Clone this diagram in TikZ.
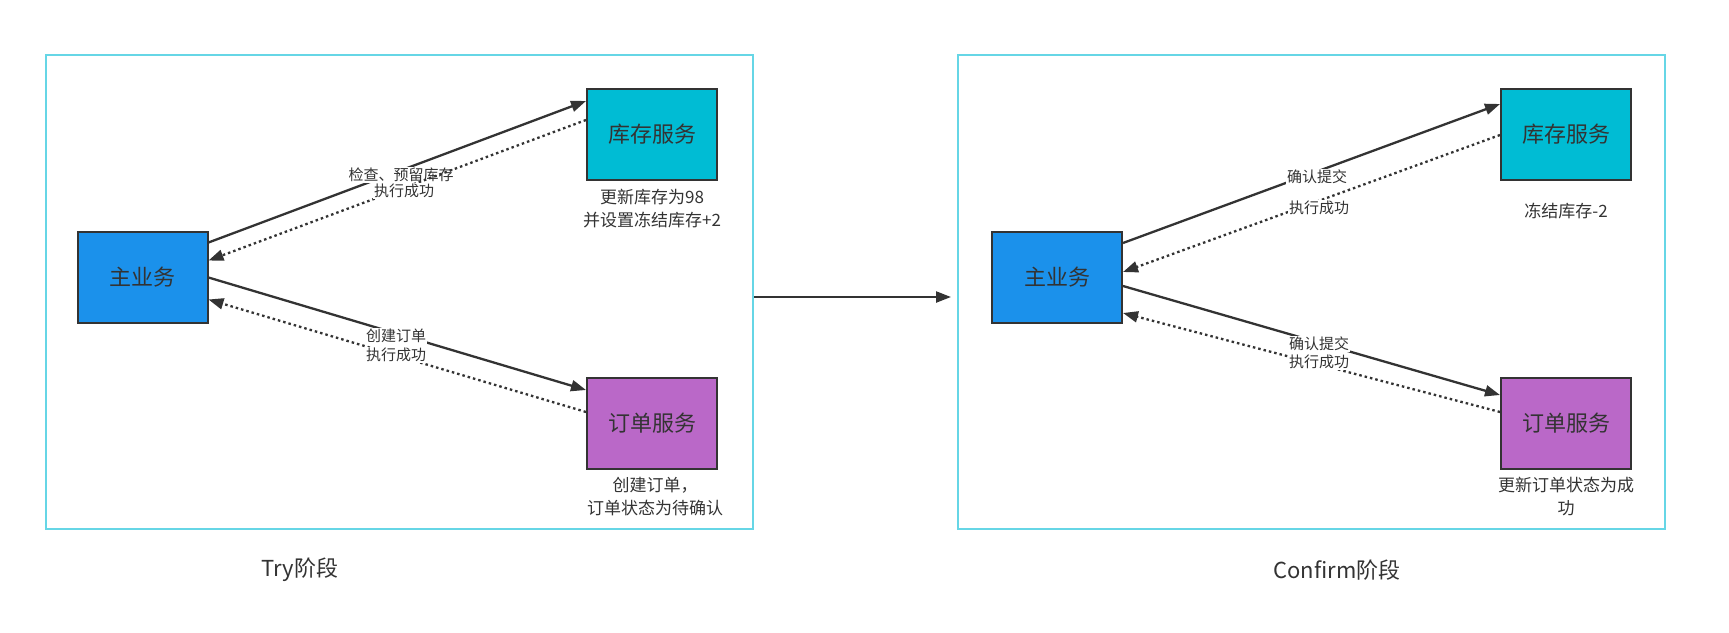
\documentclass[tikz,border=0pt]{standalone}
\usepackage{fontspec}
\setmainfont{Noto Sans CJK SC}
\usetikzlibrary{arrows.meta}

\definecolor{mainblue}{RGB}{27,145,235}
\definecolor{stockcyan}{RGB}{0,188,212}
\definecolor{orderpurple}{RGB}{186,104,200}
\definecolor{framecyan}{RGB}{102,214,230}
\definecolor{ink}{RGB}{51,51,51}

\tikzstyle{service} = [draw=ink,line width=2pt,minimum width=130pt,minimum height=91pt,inner sep=0pt,text=ink,font=\fontsize{22}{26}\selectfont]
\tikzstyle{phase} = [draw=framecyan,line width=2pt,minimum width=707pt,minimum height=474pt,inner sep=0pt]
\tikzstyle{phaselabel} = [text=ink,font=\fontsize{22}{26}\selectfont]
\tikzstyle{note} = [align=center,text=ink,font=\fontsize{17}{23}\selectfont]
\tikzstyle{edgelabel} = [fill=white,inner sep=1pt,text=ink,font=\fontsize{15}{17}\selectfont]
\tikzstyle{call} = [draw=ink,line width=2.3pt,-{Triangle[length=15pt,width=11pt]}]
\tikzstyle{reply} = [draw=ink,line width=2.3pt,dash pattern=on 2.5pt off 3pt,-{Triangle[length=15pt,width=11pt]}]

\begin{document}
\begin{tikzpicture}[x=1pt,y=-1pt]
		\useasboundingbox (0,0) rectangle (1729,632);
		% Try
		\node[phase] (f1) at (399.5,292) {};
		\node[service,fill=mainblue] (t1) at (142.5,277.5) {主业务};
		\node[service,fill=stockcyan] (t2) at (652,134) {库存服务};
		\node[service,fill=orderpurple] (t3) at (652,423) {订单服务};
		\node[note] (t2note) at (652,208.5) {更新库存为98\\并设置冻结库存+2};
		\node[note] (t3note) at (655,496.5) {创建订单，\\订单状态为待确认};
		\draw[call] ([yshift=35pt]t1.east) -- ([yshift=33pt]t2.west);
		\node[edgelabel] (l1) at (401,175) {检查、预留库存};
		\draw[reply] ([yshift=14pt]t2.west) -- ([yshift=17pt]t1.east);
		\node[edgelabel] (l2) at (404,191) {执行成功};
		\draw[call] ([yshift=0pt]t1.east) -- ([yshift=33pt]t3.west);
		\node[edgelabel] (l3) at (396,336) {创建订单};
		\draw[reply] ([yshift=11pt]t3.west) -- ([yshift=-22pt]t1.east);
		\node[edgelabel] (l4) at (396,355) {执行成功};
		\node[phaselabel] (p1) at (300,570) {Try阶段};
		% Confirm
		\node[phase] (f2) at (1311.5,292) {};
		\node[service,fill=mainblue] (c1) at (1057,277) {主业务};
		\node[service,fill=stockcyan] (c2) at (1566,134) {库存服务};
		\node[service,fill=orderpurple] (c3) at (1566,423) {订单服务};
		\node[note] (c2note) at (1566,211) {冻结库存-2};
		\node[note] (c3note) at (1566,496.5) {更新订单状态为成\\功};
		\draw[call] ([yshift=34pt]c1.east) -- ([yshift=30pt]c2.west);
		\node[edgelabel] (l5) at (1317,177) {确认提交};
		\draw[reply] ([yshift=-1pt]c2.west) -- ([yshift=5pt]c1.east);
		\node[edgelabel] (l6) at (1319,208) {执行成功};
		\draw[call] ([yshift=-9pt]c1.east) -- ([yshift=28pt]c3.west);
		\node[edgelabel] (l7) at (1319,344) {确认提交};
		\draw[reply] ([yshift=11pt]c3.west) -- ([yshift=-36pt]c1.east);
		\node[edgelabel] (l8) at (1319,362) {执行成功};
		\node[phaselabel] (p2) at (1337,570) {Confirm阶段};
		% Try -> Confirm
		\draw[call] ([yshift=-5pt]f1.east) -- ([xshift=-6pt,yshift=-5pt]f2.west);
\end{tikzpicture}
\end{document}
